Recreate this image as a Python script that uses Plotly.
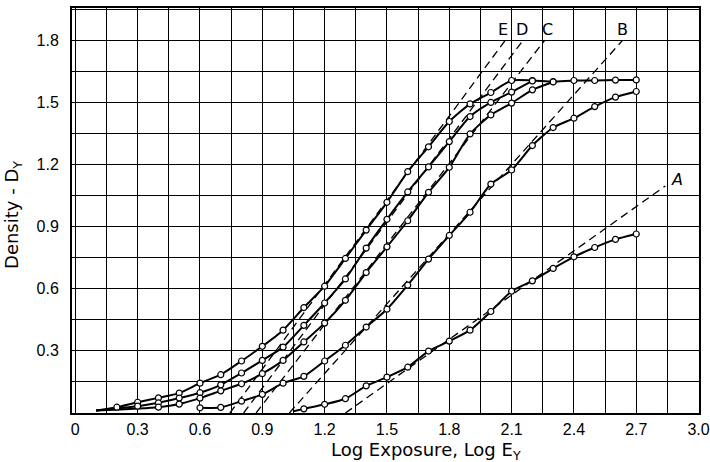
import plotly.graph_objects as go

# ---- data ----
x_E = [0.2, 0.3, 0.4, 0.5, 0.6, 0.7, 0.8, 0.9, 1.0, 1.1, 1.2, 1.3, 1.4, 1.5, 1.6, 1.7, 1.8, 1.9, 2.0, 2.1, 2.2, 2.3, 2.4, 2.5, 2.6, 2.7]
y_E = [0.028, 0.052, 0.073, 0.096, 0.144, 0.185, 0.251, 0.322, 0.400, 0.509, 0.612, 0.746, 0.883, 1.017, 1.165, 1.285, 1.407, 1.492, 1.547, 1.605, 1.605, 1.600, 1.605, 1.605, 1.607, 1.608]

x_D = [0.3, 0.4, 0.5, 0.6, 0.7, 0.8, 0.9, 1.0, 1.1, 1.2, 1.3, 1.4, 1.5, 1.6, 1.7, 1.8, 1.9, 2.0, 2.1, 2.2]
y_D = [0.033, 0.049, 0.072, 0.098, 0.136, 0.193, 0.254, 0.318, 0.423, 0.531, 0.647, 0.796, 0.935, 1.067, 1.188, 1.310, 1.431, 1.499, 1.549, 1.603]

x_C = [0.4, 0.5, 0.6, 0.7, 0.8, 0.9, 1.0, 1.1, 1.2, 1.3, 1.4, 1.5, 1.6, 1.7, 1.8, 1.9, 2.0, 2.1, 2.2, 2.3]
y_C = [0.028, 0.043, 0.072, 0.107, 0.141, 0.190, 0.254, 0.343, 0.434, 0.544, 0.678, 0.802, 0.928, 1.065, 1.186, 1.347, 1.439, 1.496, 1.560, 1.598]

x_B = [0.6, 0.7, 0.8, 0.9, 1.0, 1.1, 1.2, 1.3, 1.4, 1.5, 1.6, 1.7, 1.8, 1.9, 2.0, 2.1, 2.2, 2.3, 2.4, 2.5, 2.6, 2.7]
y_B = [0.025, 0.027, 0.057, 0.090, 0.144, 0.177, 0.251, 0.327, 0.415, 0.501, 0.617, 0.743, 0.857, 0.969, 1.105, 1.173, 1.291, 1.378, 1.423, 1.479, 1.525, 1.552]

x_A = [1.1, 1.2, 1.3, 1.4, 1.5, 1.6, 1.7, 1.8, 1.9, 2.0, 2.1, 2.2, 2.3, 2.4, 2.5, 2.6, 2.7]
y_A = [0.020, 0.042, 0.069, 0.131, 0.173, 0.221, 0.299, 0.347, 0.400, 0.490, 0.588, 0.638, 0.698, 0.754, 0.799, 0.838, 0.864]

curve_names = ["E", "D", "C", "B", "A"]
# where each drawn curve begins (before first measured point)
start_x = [0.1, 0.1, 0.1, None, 1.05]
start_y = [0.012, 0.012, 0.012, None, 0.008]

# dashed straight-line (gamma) extrapolations
tan_x0 = [0.744, 0.81, 0.87, 1.03, 1.30]
tan_y0 = [0.0, 0.0, 0.0, 0.0, 0.0]
tan_x1 = [2.07, 2.16, 2.26, 2.635, 2.84]
tan_y1 = [1.80, 1.806, 1.80, 1.80, 1.096]

label_x = [2.058, 2.149, 2.271, 2.635, 2.894]
label_y = [1.851, 1.851, 1.851, 1.851, 1.125]

x_ticks = [0, 0.3, 0.6, 0.9, 1.2, 1.5, 1.8, 2.1, 2.4, 2.7, 3.0]
x_tick_text = ["0", "0.3", "0.6", "0.9", "1.2", "1.5", "1.8", "2.1", "2.4", "2.7", "3.0"]
y_ticks = [0.3, 0.6, 0.9, 1.2, 1.5, 1.8]
y_tick_text = ["0.3", "0.6", "0.9", "1.2", "1.5", "1.8"]

series = {
    "E": (x_E, y_E), "D": (x_D, y_D), "C": (x_C, y_C),
    "B": (x_B, y_B), "A": (x_A, y_A),
}

fig = go.Figure()

# dashed extrapolation lines
for i, n in enumerate(curve_names):
    fig.add_trace(go.Scatter(
        x=[tan_x0[i], tan_x1[i]], y=[tan_y0[i], tan_y1[i]],
        mode="lines", line=dict(color="black", width=1.3, dash="8px,5px"),
        hoverinfo="skip", showlegend=False))

# solid curves
for i, n in enumerate(curve_names):
    xs, ys = series[n]
    lx = ([start_x[i]] if start_x[i] is not None else []) + xs
    ly = ([start_y[i]] if start_y[i] is not None else []) + ys
    fig.add_trace(go.Scatter(
        x=lx, y=ly, mode="lines",
        line=dict(color="black", width=2.0, shape="spline", smoothing=0.6),
        hoverinfo="skip", showlegend=False))

# open circle markers
for n in curve_names:
    xs, ys = series[n]
    fig.add_trace(go.Scatter(
        x=xs, y=ys, mode="markers", name=n,
        marker=dict(symbol="circle", size=6, color="white",
                    line=dict(color="black", width=1.2)),
        showlegend=False))

# curve labels
for i, n in enumerate(curve_names):
    fig.add_annotation(
        x=label_x[i], y=label_y[i], text=("<i>%s</i>" % n) if n == "A" else n,
        showarrow=False, font=dict(family="DejaVu Sans", size=16, color="black"),
        xanchor="center", yanchor="middle")

# axis titles as annotations (positioned like the reference)
fig.add_annotation(
    xref="paper", yref="paper", x=0.565, y=-0.094,
    text="Log Exposure, Log E<sub>Y</sub>", showarrow=False,
    font=dict(family="DejaVu Sans", size=18, color="black"),
    xanchor="center", yanchor="middle")
fig.add_annotation(
    xref="paper", yref="paper", x=-0.095, y=0.49,
    text="Density - D<sub>Y</sub>", showarrow=False, textangle=-90,
    font=dict(family="DejaVu Sans", size=18, color="black"),
    xanchor="center", yanchor="middle")

tick_font = dict(family="Liberation Sans", size=16, color="black")

fig.update_layout(
    width=710, height=462,
    margin=dict(l=72, r=11, t=8, b=49),
    paper_bgcolor="white", plot_bgcolor="white",
    showlegend=False,
    xaxis=dict(
        range=[-0.016, 3.002], tickmode="array", tickvals=x_ticks, ticktext=x_tick_text,
        showgrid=True, gridcolor="black", gridwidth=1,
        minor=dict(dtick=0.15, tick0=0, showgrid=True, gridcolor="black", gridwidth=1),
        showline=True, linecolor="black", linewidth=2, mirror=True,
        ticks="", tickfont=tick_font, zeroline=False, ticklabelstandoff=1,
        ticklabeloverflow="allow", automargin=False,
    ),
    yaxis=dict(
        range=[0, 1.955], tickmode="array", tickvals=y_ticks, ticktext=y_tick_text,
        showgrid=True, gridcolor="black", gridwidth=1,
        minor=dict(dtick=0.15, tick0=0, showgrid=True, gridcolor="black", gridwidth=1),
        showline=True, linecolor="black", linewidth=2, mirror=True,
        ticks="", tickfont=tick_font, zeroline=False, ticklabelstandoff=8,
        automargin=False,
    ),
)

fig.write_html("out.html", config={"displayModeBar": False},
               post_script="document.body.style.margin='0';document.body.style.padding='0';")
